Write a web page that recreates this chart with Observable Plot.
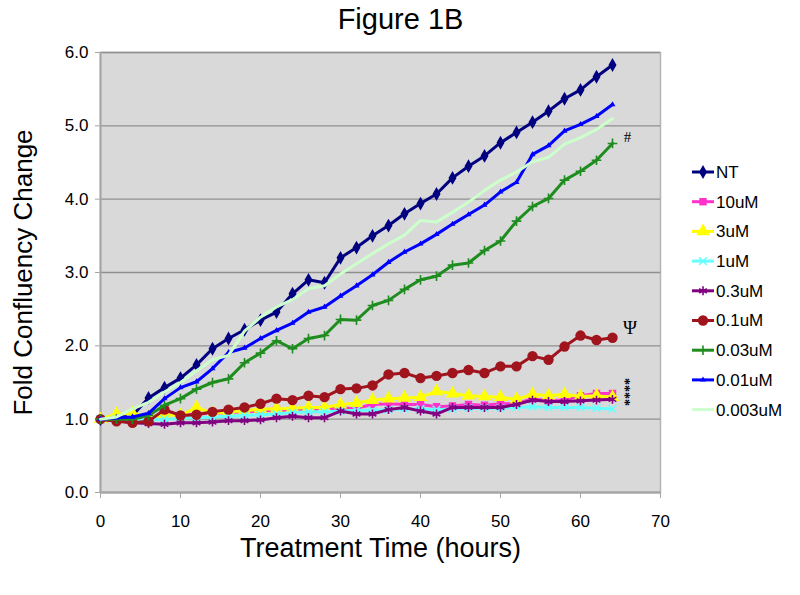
<!DOCTYPE html>
<html>
<head>
<meta charset="utf-8">
<script src="https://cdn.jsdelivr.net/npm/d3@7"></script>
<script src="https://cdn.jsdelivr.net/npm/@observablehq/plot@0.6"></script>
<style>
  html, body { margin: 0; padding: 0; background: white; }
  #chart { width: 800px; height: 595px; }
</style>
</head>
<body>
<div id="chart"></div>
<script>
// ---- data ----
const hours = [0,2,4,6,8,10,12,14,16,18,20,22,24,26,28,30,32,34,36,38,40,42,44,46,48,50,52,54,56,58,60,62,64];

const seriesNames = ["NT","10uM","3uM","1uM","0.3uM","0.1uM","0.03uM","0.01uM","0.003uM"];

const valuesNT      = [1.00,1.02,1.05,1.29,1.43,1.56,1.74,1.96,2.10,2.22,2.35,2.46,2.71,2.90,2.86,3.20,3.34,3.50,3.64,3.80,3.94,4.07,4.29,4.45,4.59,4.77,4.91,5.05,5.20,5.37,5.49,5.67,5.83];
const values10uM    = [1.00,1.02,1.03,1.02,1.08,1.05,1.07,1.08,1.09,1.10,1.11,1.12,1.12,1.13,1.14,1.15,1.15,1.20,1.21,1.20,1.20,1.17,1.18,1.20,1.19,1.21,1.21,1.28,1.25,1.26,1.32,1.35,1.35];
const values3uM     = [1.00,1.07,1.08,1.03,1.06,1.05,1.16,1.08,1.10,1.11,1.14,1.14,1.15,1.16,1.16,1.20,1.22,1.26,1.28,1.29,1.30,1.38,1.35,1.32,1.31,1.30,1.27,1.34,1.32,1.34,1.31,1.32,1.30];
const values1uM     = [1.00,1.00,1.00,0.99,1.00,1.01,1.02,1.03,1.04,1.05,1.06,1.07,1.09,1.10,1.10,1.11,1.12,1.12,1.13,1.14,1.14,1.13,1.14,1.15,1.15,1.15,1.16,1.17,1.16,1.16,1.16,1.15,1.14];
const values03uM    = [1.00,0.98,0.95,0.94,0.93,0.95,0.95,0.96,0.98,0.98,0.99,1.02,1.04,1.02,1.02,1.11,1.07,1.07,1.13,1.16,1.11,1.07,1.16,1.16,1.16,1.16,1.20,1.26,1.24,1.24,1.25,1.26,1.27];
const values01uM    = [1.00,0.97,0.95,0.97,1.13,1.05,1.06,1.10,1.13,1.16,1.21,1.28,1.26,1.32,1.30,1.41,1.42,1.46,1.61,1.63,1.56,1.59,1.63,1.67,1.63,1.72,1.72,1.86,1.81,1.99,2.14,2.08,2.11];
const values003uM   = [1.00,1.00,1.00,1.05,1.19,1.28,1.41,1.50,1.55,1.77,1.90,2.07,1.96,2.10,2.14,2.36,2.35,2.55,2.62,2.77,2.90,2.95,3.10,3.13,3.30,3.43,3.70,3.90,4.01,4.26,4.38,4.53,4.76];
const values001uM   = [1.00,1.02,1.03,1.08,1.28,1.43,1.51,1.69,1.91,1.97,2.10,2.21,2.31,2.46,2.53,2.68,2.82,2.97,3.14,3.28,3.39,3.52,3.66,3.79,3.92,4.10,4.23,4.61,4.73,4.93,5.02,5.13,5.29];
const values0003uM  = [1.00,1.03,1.14,1.23,1.37,1.50,1.66,1.81,1.87,2.20,2.39,2.53,2.63,2.78,2.82,2.98,3.12,3.26,3.39,3.51,3.71,3.69,3.82,3.96,4.12,4.26,4.37,4.51,4.57,4.75,4.84,4.95,5.10];

const xTicks = [0,10,20,30,40,50,60,70];
const yTicks = [0,1,2,3,4,5,6];

// significance marks drawn at the line ends ("****" is a vertical stack of four stars)
const annotationLabels = ["#","Ψ","****"];
const annotationHours  = [65.4,65.3,65.45];
const annotationValues = [4.84,2.24,1.37];

// ---- styles ----
const seriesColors  = ["#000080","#FF33CC","#FFFF00","#66FFFF","#800080","#A0141E","#1E8C1E","#0000FF","#CCFFCC"];
const seriesSymbols = ["diamond","square","triangle","times","asterisk","circle","plus","triangle",null];
const seriesRadius  = [4.2,4.2,5,3.6,4.2,5.2,3.2,2.2,0];
const strokeSymbols = new Set(["times","asterisk","plus"]);

const allValues = [valuesNT,values10uM,values3uM,values1uM,values03uM,values01uM,values003uM,values001uM,values0003uM];

const rows = seriesNames.flatMap((name, i) =>
  hours.map((h, j) => ({series: name, hour: h, value: allValues[i][j]})));

const annotations = annotationLabels.map((label, i) => ({label, hour: annotationHours[i], value: annotationValues[i]}));

const font = "'Liberation Sans', Arial, sans-serif";

const seriesMarks = seriesNames.flatMap((name, i) => {
  const data = rows.filter(d => d.series === name);
  const marks = [Plot.line(data, {x: "hour", y: "value", stroke: seriesColors[i], strokeWidth: 3})];
  const sym = seriesSymbols[i];
  if (sym) {
    if (strokeSymbols.has(sym)) {
      marks.push(Plot.dot(data, {x: "hour", y: "value", symbol: sym, r: seriesRadius[i], stroke: seriesColors[i], strokeWidth: 1.6, fill: "none"}));
    } else {
      marks.push(Plot.dot(data, {x: "hour", y: "value", symbol: sym, r: seriesRadius[i], fill: seriesColors[i], stroke: "none"}));
    }
  }
  return marks;
});

const chart = Plot.plot({
  width: 800,
  height: 595,
  marginLeft: 100,
  marginRight: 140,
  marginTop: 52,
  marginBottom: 103,
  style: {fontFamily: font, background: "white", color: "black"},
  x: {domain: [0, 70], label: null},
  y: {domain: [0, 6], label: null},
  marks: [
    Plot.frame({fill: "#D9D9D9", stroke: "#B4B4B4", strokeWidth: 1.5}),
    Plot.gridY(yTicks, {stroke: "#8F8F8F", strokeOpacity: 1, strokeWidth: 1.3}),
    Plot.ruleX([0], {stroke: "#A6A6A6", strokeWidth: 2}),
    Plot.ruleY([0], {stroke: "#A6A6A6", strokeWidth: 2}),
    Plot.axisY(yTicks, {tickFormat: d3.format(".1f"), tickSize: 5, tickPadding: 7, fontSize: 17, stroke: "#A6A6A6", fill: "black", label: null}),
    Plot.axisX(xTicks, {tickSize: 6, tickPadding: 16, fontSize: 17, stroke: "#A6A6A6", fill: "black", label: null}),
    ...seriesMarks,
    Plot.text(annotations.filter(d => d.label !== "****"), {x: "hour", y: "value", text: "label", textAnchor: "start", lineAnchor: "middle", fontFamily: "'Liberation Serif', 'DejaVu Serif', serif", fontSize: d => d.label === "Ψ" ? 19 : 15, fill: "black"}),
    Plot.text(annotations.filter(d => d.label === "****"), {x: "hour", y: "value", text: "label", rotate: 90, textAnchor: "middle", lineAnchor: "middle", fontFamily: "'Liberation Serif', 'DejaVu Serif', serif", fontSize: 14, fontWeight: "bold", fill: "black"}),
    Plot.text(["Figure 1B"], {frameAnchor: "top", lineAnchor: "middle", textAnchor: "middle", dx: 20, dy: -33, fontSize: 29, fill: "black"}),
    Plot.text(["Fold Confluency Change"], {frameAnchor: "left", rotate: -90, textAnchor: "middle", lineAnchor: "middle", dx: -77, fontSize: 26, fill: "black"}),
    Plot.text(["Treatment Time (hours)"], {frameAnchor: "bottom", textAnchor: "middle", lineAnchor: "middle", dy: 56, fontSize: 27, fill: "black"})
  ]
});

document.getElementById("chart").appendChild(chart);

// ---- legend (drawn beside the plot area) ----
const svg = d3.select(chart);
const legend = svg.append("g").attr("font-family", font).attr("font-size", 17).attr("text-anchor", "start");
const legendX = 692, legendY0 = 172, legendStep = 29.7;
const d3Symbols = {diamond: d3.symbolDiamond, square: d3.symbolSquare, triangle: d3.symbolTriangle, times: d3.symbolTimes, asterisk: d3.symbolAsterisk, circle: d3.symbolCircle, plus: d3.symbolPlus};
seriesNames.forEach((name, i) => {
  const y = legendY0 + i * legendStep;
  const g = legend.append("g").attr("transform", `translate(${legendX},${y})`);
  g.append("line").attr("x1", 0).attr("x2", 22).attr("y1", 0).attr("y2", 0)
    .attr("stroke", seriesColors[i]).attr("stroke-width", 3);
  const sym = seriesSymbols[i];
  if (sym) {
    const r = seriesRadius[i];
    const p = d3.symbol(d3Symbols[sym], Math.PI * r * r)();
    const path = g.append("path").attr("d", p).attr("transform", "translate(11,0)");
    if (strokeSymbols.has(sym)) path.attr("fill", "none").attr("stroke", seriesColors[i]).attr("stroke-width", 1.6);
    else path.attr("fill", seriesColors[i]);
  }
  g.append("text").attr("x", 24).attr("y", 0).attr("dy", "0.35em").attr("text-anchor", "start").attr("fill", "black").text(name);
});
</script>
</body>
</html>
